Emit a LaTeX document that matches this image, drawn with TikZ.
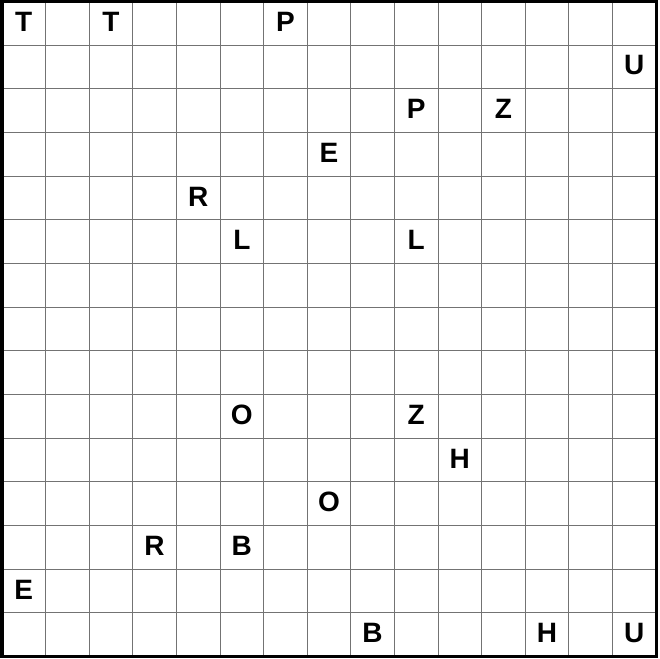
\documentclass[tikz,border=0pt]{standalone}
\usepackage{fontspec}
\setmainfont{Liberation Sans}
\begin{document}
\begin{tikzpicture}[x=1pt,y=-1pt,
  gridline/.style={draw=black!55,line width=0.9pt},
  frame/.style={draw=black,line width=3.4pt},
  letter/.style={inner sep=0pt,font=\fontsize{28}{28}\selectfont\bfseries}]
\useasboundingbox (0,0) rectangle (660,658);
\def\cw{43.6}\def\ch{43.67}
\foreach \i in {1,...,14}{
  \draw[gridline] ({2+\i*\cw},1.5) -- ({2+\i*\cw},656.5);
  \draw[gridline] (2,{1.5+\i*\ch}) -- (656,{1.5+\i*\ch});
}
\draw[frame] (2,1.7) rectangle (656.3,656.3);
\foreach \c/\r/\t [count=\n] in {0/0/T,2/0/T,6/0/P,14/1/U,9/2/P,11/2/Z,7/3/E,4/4/R,5/5/L,9/5/L,5/9/O,9/9/Z,10/10/H,7/11/O,3/12/R,5/12/B,0/13/E,8/14/B,12/14/H,14/14/U}{
  \node[letter] (l\n) at ({2+(\c+0.5)*\cw},{1.5+(\r+0.5)*\ch-1.5}) {\t};
}
\end{tikzpicture}
\end{document}
